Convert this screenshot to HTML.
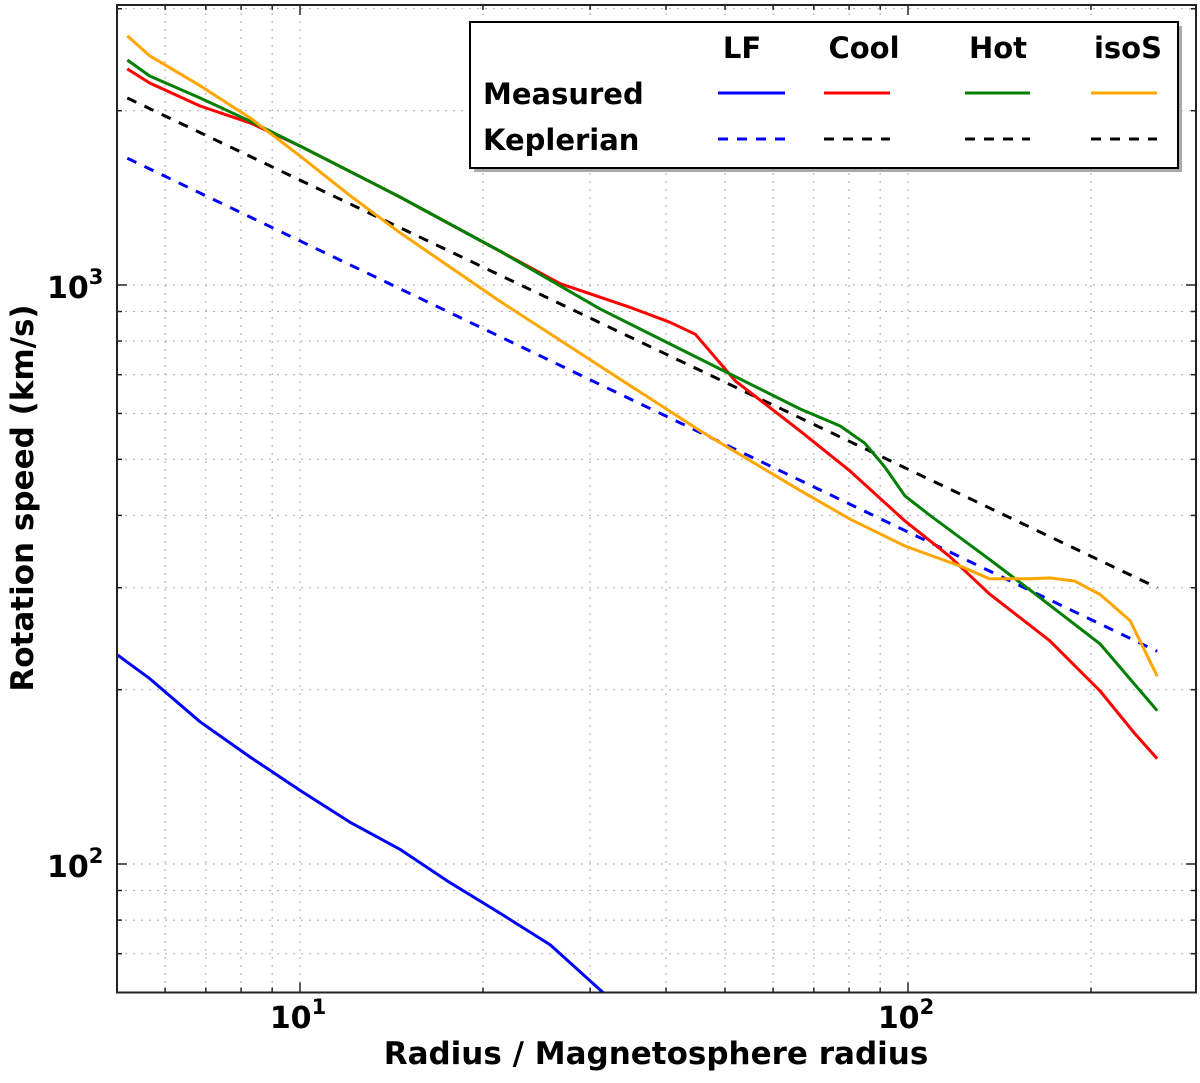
<!DOCTYPE html>
<html><head><meta charset="utf-8"><style>
body{margin:0;background:#fff}
svg text{font-family:"DejaVu Sans","Liberation Sans",sans-serif;font-weight:bold}
</style></head><body>
<svg id="chart" width="1200" height="1078" xmlns="http://www.w3.org/2000/svg">
<g id="grid"></g>
<g id="series"></g>
<rect x="117" y="5" width="1079" height="987.5" fill="none" stroke="#222" stroke-width="2"/>
<g id="ticks"></g>
<text x="656" y="1064" font-size="31" text-anchor="middle">Radius / Magnetosphere radius</text>
<text transform="translate(33,498) rotate(-90)" font-size="31" text-anchor="middle">Rotation speed (km/s)</text>
<g>
<rect x="474" y="26" width="708" height="146" fill="#aaa"/>
<rect x="470" y="22" width="708" height="146" fill="#fff" stroke="#000" stroke-width="2"/>
<text x="742" y="58" font-size="29" text-anchor="middle">LF</text>
<text x="864" y="58" font-size="29" text-anchor="middle">Cool</text>
<text x="998" y="58" font-size="29" text-anchor="middle">Hot</text>
<text x="1128" y="58" font-size="29" text-anchor="middle">isoS</text>
<text x="483" y="104" font-size="29">Measured</text>
<text x="483" y="150" font-size="29">Keplerian</text>
<line x1="718" y1="93" x2="785" y2="93" stroke="#0000ff" stroke-width="3"/>
<line x1="824" y1="93" x2="890" y2="93" stroke="#ff0000" stroke-width="3"/>
<line x1="965" y1="93" x2="1030" y2="93" stroke="#007f00" stroke-width="3"/>
<line x1="1091" y1="93" x2="1157" y2="93" stroke="#ffa500" stroke-width="3"/>
<line x1="718" y1="139" x2="785" y2="139" stroke="#0000ff" stroke-width="3" stroke-dasharray="10,9"/>
<line x1="824" y1="139" x2="890" y2="139" stroke="#000" stroke-width="3" stroke-dasharray="10,9"/>
<line x1="965" y1="139" x2="1030" y2="139" stroke="#000" stroke-width="3" stroke-dasharray="10,9"/>
<line x1="1091" y1="139" x2="1157" y2="139" stroke="#000" stroke-width="3" stroke-dasharray="10,9"/>
</g>
</svg>
<script>
const lfR=[5,5.66,6.85,8.28,10,12.1,14.6,17.6,21.3,25.8,31.5];
const lfV=[230,209,176,153,134,118,106,93,82.3,72.5,60];
const coolR=[5.2,5.66,6.85,8.28,10,14.6,21.3,26.8,34.9,40.6,44.7,52,66.4,80.3,98.9,117,136,171,207,236,257];
const coolV=[2362,2233,2038,1905,1738,1419,1145,1005,915,862,822,683,560,477,391,340,293,243,199,168,152];
const hotR=[5.2,5.66,6.85,8.28,10,14.6,21.3,31.1,45.5,66.4,77.3,84.9,91.6,98.9,109,136,159,207,257];
const hotV=[2447,2296,2104,1918,1738,1419,1145,910,745,611,571,533,485,432,399,336,297,240,184];
const isoR=[5.2,5.66,6.85,8.28,10,12.1,14.6,21.3,31.1,45.5,66.4,80.3,98.9,122,136,159,171,188,207,232,257];
const isoV=[2693,2488,2209,1943,1671,1426,1231,938,725,560,442,394,354,327,311,311,312,308,292,263,211];
const kepR=[5.2,257];
const kepLFV=[1656,233];
const kepV=[2104,300];
const xTicks=[10,100];
const yTicks=[100,1000];

const L=117,R=1196,T=5,B=992.5;
const X=v=>300+(Math.log10(v)-1)*608;
const Y=v=>864-(Math.log10(v)-2)*579;
const NS="http://www.w3.org/2000/svg";
function mk(tag,parent){const e=document.createElementNS(NS,tag);document.getElementById(parent).appendChild(e);return e;}
for(let d=1;d<=100;d*=10){for(let m=1;m<10;m++){const v=d*m;const x=X(v);if(x<=L+1||x>=R-1)continue;
 const g=mk('line','grid');g.setAttribute('x1',x);g.setAttribute('x2',x);g.setAttribute('y1',T);g.setAttribute('y2',B);
 g.setAttribute('stroke','#aaa');g.setAttribute('stroke-dasharray','2,6');
 
 
 const len=(m===1)?10:5;
 [[B,B-len],[T,T+len]].forEach(([a,b])=>{const t=mk('line','ticks');t.setAttribute('x1',x);t.setAttribute('x2',x);t.setAttribute('y1',a);t.setAttribute('y2',b);t.setAttribute('stroke','#222');t.setAttribute('stroke-width','1.5');
 
 });
}}
for(let d=10;d<=1000;d*=10){for(let m=1;m<10;m++){const v=d*m;const y=Y(v);if(y<=T+1||y>=B-1)continue;
 const g=mk('line','grid');g.setAttribute('y1',y);g.setAttribute('y2',y);g.setAttribute('x1',L);g.setAttribute('x2',R);
 g.setAttribute('stroke','#aaa');g.setAttribute('stroke-dasharray','2,6');
 
 
 const len=(m===1)?10:5;
 [[L,L+len],[R,R-len]].forEach(([a,b])=>{const t=mk('line','ticks');t.setAttribute('y1',y);t.setAttribute('y2',y);t.setAttribute('x1',a);t.setAttribute('x2',b);t.setAttribute('stroke','#222');t.setAttribute('stroke-width','1.5');
 
 });
}}
xTicks.forEach(v=>{const t=mk('text','ticks');t.setAttribute('x',X(v)-2);t.setAttribute('y',1028);t.setAttribute('font-size','30');t.setAttribute('text-anchor','middle');
 t.innerHTML='10<tspan dy="-14" font-size="21">'+Math.round(Math.log10(v))+'</tspan>';
 
 });
yTicks.forEach(v=>{const t=mk('text','ticks');t.setAttribute('x',47);t.setAttribute('y',Y(v)+13);t.setAttribute('font-size','30');
 t.innerHTML='10<tspan dy="-14" font-size="21">'+Math.round(Math.log10(v))+'</tspan>';
 
 });
const defs=mk('defs','series');defs.innerHTML='<clipPath id="pc"><rect x="117" y="5" width="1079" height="987.5"/></clipPath>';
document.getElementById('series').setAttribute('clip-path','url(#pc)');
function line(rs,vs,color,dash,name){const p=mk('path','series');
 p.setAttribute('d',rs.map((r,i)=>(i?'L':'M')+X(r).toFixed(1)+','+Y(vs[i]).toFixed(1)).join(''));
 p.setAttribute('fill','none');p.setAttribute('stroke',color);p.setAttribute('stroke-width','3');p.setAttribute('stroke-linejoin','round');
 if(dash)p.setAttribute('stroke-dasharray','10,9');
 
 }
line(kepR,kepV,'#000',true,'keplerian-line');
line(kepR,kepLFV,'#0000ff',true,'lf-keplerian-line');
line(lfR,lfV,'#0000ff',false,'lf-measured-line');
line(coolR,coolV,'#ff0000',false,'cool-measured-line');
line(hotR,hotV,'#007f00',false,'hot-measured-line');
line(isoR,isoV,'#ffa500',false,'isos-measured-line');
</script>
</body></html>
